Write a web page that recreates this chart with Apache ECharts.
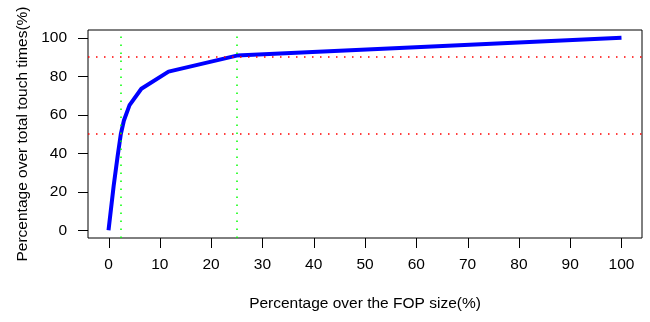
<!DOCTYPE html>
<html>
<head>
<meta charset="utf-8">
<script src="https://cdn.jsdelivr.net/npm/echarts@6/dist/echarts.min.js"></script>
<style>
  html, body { margin: 0; padding: 0; background: #fff; }
  #chart { width: 650px; height: 322px; }
</style>
</head>
<body>
<div id="chart"></div>
<script>
  // cumulative share of touches vs share of FOP size
  let fopPct = [0, 1, 1.8, 2.4, 3, 4.1, 6.4, 11.7, 25, 100];
  let touchPct = [0, 23, 39, 50, 57, 65, 73.5, 82.4, 90.7, 100];
  let hLines = [50, 90];
  let vLines = [2.4, 25];
  let xTicks = [0, 10, 20, 30, 40, 50, 60, 70, 80, 90, 100];
  let yTicks = [0, 20, 40, 60, 80, 100];

  let chart = echarts.init(document.getElementById('chart'));
  let font = 'Liberation Sans, Arial, sans-serif';
  let fs = 15.5;

  chart.setOption({
    animation: false,
    grid: {
      left: 88, right: 8, top: 30, bottom: 84,
      show: true,
      borderColor: '#000',
      borderWidth: 1
    },
    xAxis: {
      type: 'value',
      min: -4, max: 104,
      name: 'Percentage over the FOP size(%)',
      nameLocation: 'middle',
      nameGap: 58,
      nameTextStyle: { color: '#000', fontSize: fs, fontFamily: font },
      axisLine: { show: false },
      axisTick: { show: false },
      axisLabel: { customValues: xTicks, margin: 19, color: '#000', fontSize: fs, fontFamily: font },
      splitLine: { show: false }
    },
    yAxis: {
      type: 'value',
      min: -4, max: 104,
      name: 'Percentage over total touch times(%)',
      nameLocation: 'middle',
      nameGap: 55,
      nameTextStyle: { color: '#000', fontSize: fs, fontFamily: font },
      axisLine: { show: false },
      axisTick: { show: false },
      axisLabel: { customValues: yTicks, margin: 21, color: '#000', fontSize: fs, fontFamily: font },
      splitLine: { show: false }
    },
    series: [
      {
        type: 'line',
        data: fopPct.map((x, i) => [x, touchPct[i]]),
        symbol: 'none',
        lineStyle: { color: '#0000FF', width: 4 },
        z: 3
      },
      {
        type: 'line',
        data: [],
        markLine: {
          silent: true,
          symbol: 'none',
          label: { show: false },
          lineStyle: { color: '#FF0000', type: [1.5, 6.5], width: 1.5 },
          data: hLines.map(v => ({ yAxis: v }))
        }
      },
      {
        type: 'line',
        data: [],
        markLine: {
          silent: true,
          symbol: 'none',
          label: { show: false },
          lineStyle: { color: '#00FF00', type: [1.5, 6.5], width: 1.5 },
          data: vLines.map(v => ({ xAxis: v }))
        }
      }
    ]
  });

  // R-style ticks hanging outside the box
  let gridBottom = 322 - 84, gridLeft = 88, tickLen = 10;
  let stroke = { stroke: '#000', lineWidth: 1 };
  let g = [];
  xTicks.forEach(v => {
    let x = Math.round(chart.convertToPixel({ xAxisIndex: 0 }, v)) + 0.5;
    g.push({ type: 'line', shape: { x1: x, y1: gridBottom, x2: x, y2: gridBottom + tickLen }, style: stroke });
  });
  yTicks.forEach(v => {
    let y = Math.round(chart.convertToPixel({ yAxisIndex: 0 }, v)) + 0.5;
    g.push({ type: 'line', shape: { x1: gridLeft, y1: y, x2: gridLeft - tickLen, y2: y }, style: stroke });
  });
  chart.setOption({ graphic: g });
</script>
</body>
</html>
